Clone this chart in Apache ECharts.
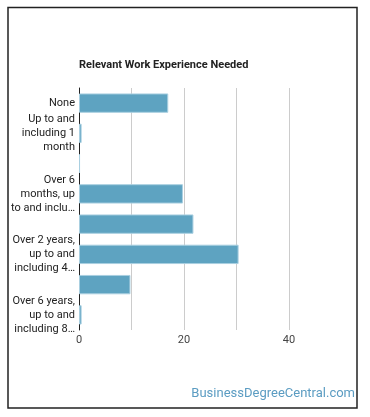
<!DOCTYPE html>
<html>
<head>
<meta charset="utf-8">
<script src="https://cdn.jsdelivr.net/npm/echarts@6/dist/echarts.min.js"></script>
<style>
html,body{margin:0;padding:0;background:#fff;}
#c{width:370px;height:417px;}
</style>
</head>
<body>
<div id="c"></div>
<script>
const title = "Relevant Work Experience Needed";
const categories = [
  "None",
  "Up to and including 1 month",
  "Over 1 month, up to and including 3 months",
  "Over 6 months, up to and including 1 year",
  "Over 1 year, up to and including 2 years",
  "Over 2 years, up to and including 4 years",
  "Over 4 years, up to and including 6 years",
  "Over 6 years, up to and including 8 years"
];
const values = [17.0, 0.5, 0.2, 19.8, 21.8, 30.4, 9.8, 0.5];
const shownLabels = [0, 1, 3, 5, 7];
const watermark = "BusinessDegreeCentral.com";

const mctx = document.createElement('canvas').getContext('2d');
mctx.font = '11px Roboto';
const MAXW = 64.5;
function wrapLabel(s) {
  const words = s.split(" ");
  const lines = [];
  let cur = "";
  let i = 0;
  for (; i < words.length; i++) {
    const t = cur ? cur + " " + words[i] : words[i];
    if (mctx.measureText(t).width > MAXW && cur) {
      lines.push(cur);
      cur = words[i];
      if (lines.length === 2) { i++; break; }
    } else {
      cur = t;
    }
  }
  if (lines.length === 2) {
    let rest = [cur].concat(words.slice(i)).join(" ");
    if (mctx.measureText(rest).width > MAXW) {
      while (rest.length > 0 && mctx.measureText(rest + "\u2026").width > MAXW) {
        rest = rest.slice(0, -1);
      }
      rest = rest.replace(/\s+$/, "") + "\u2026";
    }
    lines.push(rest);
  } else if (cur) {
    lines.push(cur);
  }
  return lines.join("\n");
}

const chart = echarts.init(document.getElementById('c'), null, {renderer: 'canvas'});
chart.setOption({
  animation: false,
  backgroundColor: '#fff',
  textStyle: {fontFamily: 'Roboto'},
  title: {
    text: title, left: 74, top: 55,
    textStyle: {fontSize: 11, fontWeight: 'bold', color: '#222', fontFamily: 'Roboto'}
  },
  grid: {left: 79, right: 81, top: 88, bottom: 87, containLabel: false},
  xAxis: {
    type: 'value', min: 0, max: 40, interval: 10,
    axisLine: {show: false}, axisTick: {show: false},
    splitLine: {lineStyle: {color: '#ccc', width: 1}},
    axisLabel: {
      color: '#444', fontSize: 11, margin: 5,
      formatter: v => (v % 20 === 0 ? String(v) : '')
    }
  },
  yAxis: {
    type: 'category', data: categories, inverse: true,
    axisLine: {show: true, lineStyle: {color: '#222', width: 1}},
    axisTick: {show: false},
    axisLabel: {
      color: '#222', fontSize: 11, lineHeight: 14, margin: 4, align: 'right',
      interval: (i) => shownLabels.includes(i),
      formatter: v => wrapLabel(v)
    }
  },
  series: [{
    type: 'bar', data: values, barWidth: '64%',
    itemStyle: {color: '#5ea3c1', borderColor: '#a9cfe0', borderWidth: 1}
  }],
  graphic: [
    {type: 'rect', shape: {x: 8, y: 7.5, width: 349, height: 400.5},
     style: {fill: 'none', stroke: '#222', lineWidth: 1.5}, silent: true},
    {type: 'text', right: 15, top: 387,
     style: {text: watermark, fill: '#5b9cc2', font: '13px Roboto'}}
  ]
});
</script>
</body>
</html>
